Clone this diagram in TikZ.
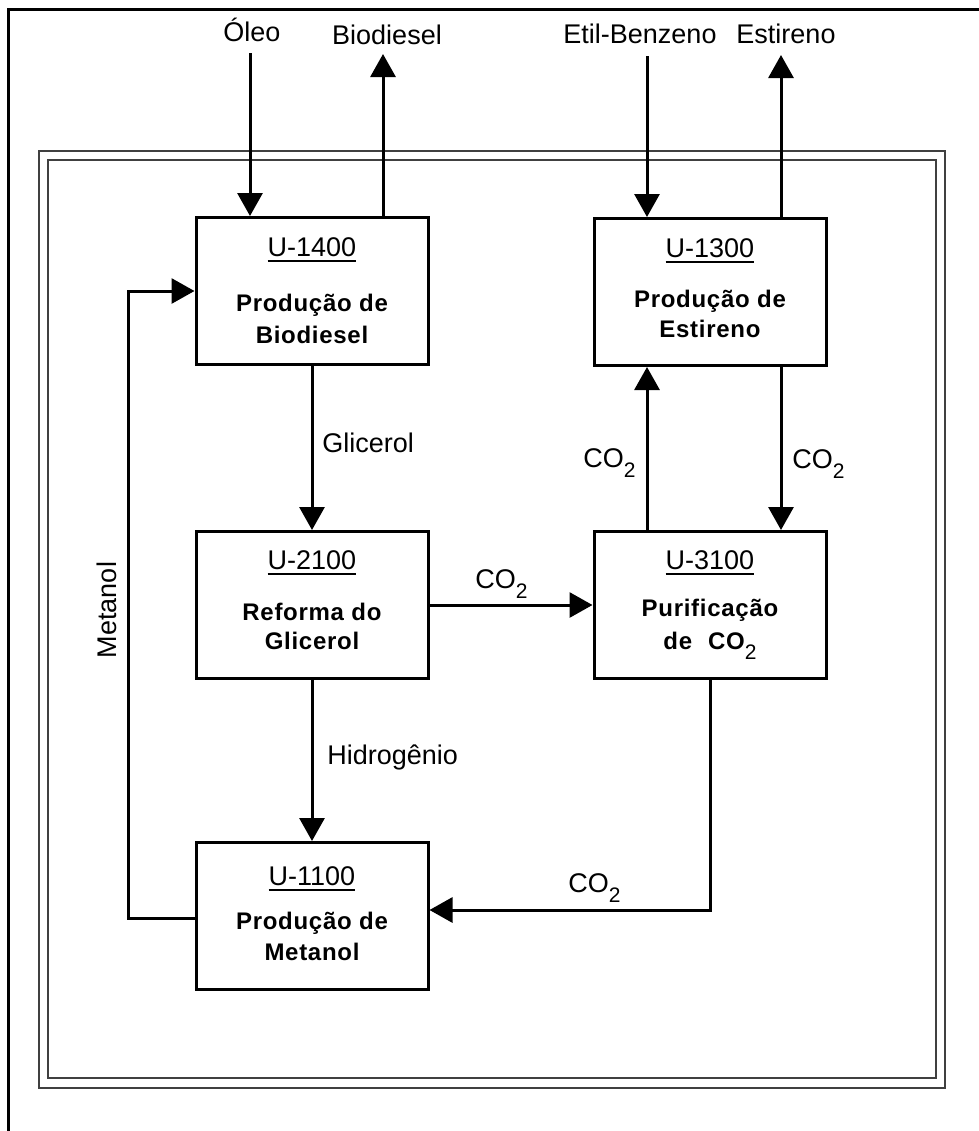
\documentclass[tikz,border=0pt]{standalone}
\usepackage{fontspec}
\setmainfont{Liberation Sans}
\newfontfamily\boxfont[LetterSpace=3]{Liberation Sans}
\usetikzlibrary{arrows.meta,calc}
\newcommand\ulab[1]{\setbox0=\hbox{#1}\rlap{\copy0}\rule[-3pt]{\wd0}{1pt}}
\newcommand\subtwo{\raisebox{-5pt}{\normalfont\fontsize{10.5}{10.5}\selectfont 2}}
\begin{document}
\begin{tikzpicture}[x=0.5pt,y=-0.5pt,
  unit/.style={draw, line width=1.5pt, minimum width=116pt, minimum height=73.5pt, inner sep=0pt},
  flow/.style={line width=1.5pt, -{Triangle[length=11.5pt,width=12.5pt]}},
  plain/.style={line width=1.5pt},
  lbl/.style={font=\fontsize{13.5}{16}\selectfont, inner sep=0pt},
  utag/.style={font=\fontsize{13.5}{16}\selectfont, inner sep=0pt, anchor=base},
  utxt/.style={font=\boxfont\bfseries\fontsize{12}{15.5}\selectfont, inner sep=0pt, anchor=base},
  frame/.style={draw=black!75, line width=1pt}]
\useasboundingbox (0,0) rectangle (979,1131);
% outer page frame
\draw[line width=1.5pt] (8,1140) -- (8,9) -- (990,9);
% double frame
\draw[frame] (39,151) rectangle (945,1088);
\draw[frame] (48,160) rectangle (936,1078);
% units
\node[unit] (b1400) at (312,291) {};
\node[unit] (b1300) at (710,292) {};
\node[unit] (b2100) at (312,605) {};
\node[unit] (b3100) at (710,605) {};
\node[unit] (b1100) at (312,916) {};
% unit texts
\node[utag] (t1400a) at ($(b1400.north)+(0,40)$) {\ulab{U-1400}};
\node[utxt] (t1400b) at ($(b1400.north)+(0,95)$) {Produção de};
\node[utxt] (t1400c) at ($(b1400.north)+(0,127)$) {Biodiesel};
\node[utag] (t1300a) at ($(b1300.north)+(0,40)$) {\ulab{U-1300}};
\node[utxt] (t1300b) at ($(b1300.north)+(0,90)$) {Produção de};
\node[utxt] (t1300c) at ($(b1300.north)+(0,120)$) {Estireno};
\node[utag] (t2100a) at ($(b2100.north)+(0,39)$) {\ulab{U-2100}};
\node[utxt] (t2100b) at ($(b2100.north)+(0,90)$) {Reforma do};
\node[utxt] (t2100c) at ($(b2100.north)+(0,119)$) {Glicerol};
\node[utag] (t3100a) at ($(b3100.north)+(0,39)$) {\ulab{U-3100}};
\node[utxt] (t3100b) at ($(b3100.north)+(0,86)$) {Purificação};
\node[utxt] (t3100c) at ($(b3100.north)+(0,119)$) {de\hspace{8pt}CO\subtwo};
\node[utag] (t1100a) at ($(b1100.north)+(0,44)$) {\ulab{U-1100}};
\node[utxt] (t1100b) at ($(b1100.north)+(0,88)$) {Produção de};
\node[utxt] (t1100c) at ($(b1100.north)+(0,119)$) {Metanol};
% stream labels
\node[lbl, anchor=base] (lOleo) at (252,41) {Óleo};
\node[lbl, anchor=base] (lBio) at (387,44) {Biodiesel};
\node[lbl, anchor=base] (lEtil) at (640,43) {Etil-Benzeno};
\node[lbl, anchor=base] (lEst) at (786,43) {Estireno};
\node[lbl, anchor=base west] (lGli) at (322,452) {Glicerol};
\node[lbl, anchor=base west] (lHid) at (327,764) {Hidrogênio};
\node[lbl, anchor=base west] (lc1) at (475,588) {CO\subtwo};
\node[lbl, anchor=base west] (lc2) at (583,467) {CO\subtwo};
\node[lbl, anchor=base west] (lc3) at (792,468) {CO\subtwo};
\node[lbl, anchor=base west] (lc4) at (568,892) {CO\subtwo};
\node[lbl, rotate=90] (lMet) at (107,610) {Metanol};
% coordinates
\coordinate (oleoTop) at (250,53);
\coordinate (bioTop) at (383,54);
\coordinate (etilTop) at (647,56);
\coordinate (estTop) at (781,55);
\coordinate (xa) at (647,0);
\coordinate (xb) at (781,0);
\coordinate (mloop) at (128,0);
% connectors
\draw[flow] (oleoTop) -- (oleoTop |- b1400.north);
\draw[flow] (bioTop |- b1400.north) -- (bioTop);
\draw[flow] (etilTop) -- (etilTop |- b1300.north);
\draw[flow] (estTop |- b1300.north) -- (estTop);
\draw[flow] (b1400.south) -- (b2100.north);
\draw[flow] (b2100.south) -- (b1100.north);
\draw[flow] (b2100.east) -- (b3100.west);
\draw[flow] (xa |- b3100.north) -- (xa |- b1300.south);
\draw[flow] (xb |- b1300.south) -- (xb |- b3100.north);
\draw[flow] (b3100.south) |- ([yshift=3pt]b1100.east);
\draw[flow] ([yshift=-1pt]b1100.west) -- ([yshift=-1pt]b1100.west -| mloop) |- (b1400.west);
\end{tikzpicture}
\end{document}
